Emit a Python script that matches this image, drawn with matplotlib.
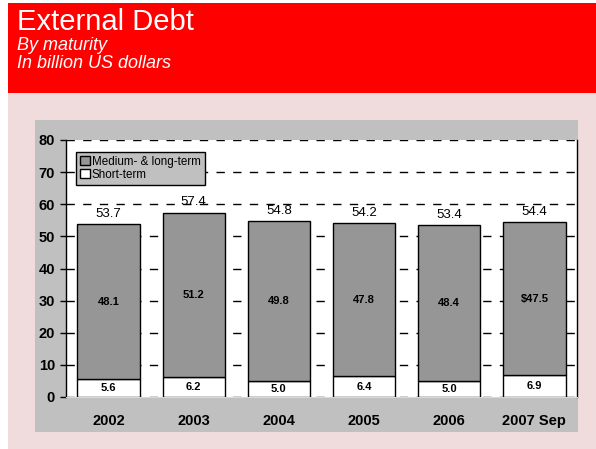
import matplotlib.pyplot as plt
from matplotlib.patches import Rectangle
import numpy as np

plt.rcParams['font.family'] = ['Liberation Sans', 'DejaVu Sans']

years = ['2002', '2003', '2004', '2005', '2006', '2007 Sep']
short_term = [5.6, 6.2, 5.0, 6.4, 5.0, 6.9]
medium_long = [48.1, 51.2, 49.8, 47.8, 48.4, 47.5]
totals = [53.7, 57.4, 54.8, 54.2, 53.4, 54.4]
medium_labels = ['48.1', '51.2', '49.8', '47.8', '48.4', '$47.5']

W, H = 596, 449
fig = plt.figure(figsize=(W / 100, H / 100), dpi=100)
fig.patch.set_facecolor('white')


def px_rect(x0, y0, x1, y1, color):
    # rectangle given in pixel coords, origin top-left
    fig.patches.append(Rectangle((x0 / W, 1 - y1 / H), (x1 - x0) / W, (y1 - y0) / H,
                                 transform=fig.transFigure, facecolor=color,
                                 edgecolor='none', zorder=-5))


px_rect(8, 93, 596, 449, '#f0dcdc')
px_rect(8, 3, 596, 93, '#ff0000')
px_rect(35, 120, 578, 432, '#c0c0c0')

fig.text(17 / W, 1 - 22 / H, 'External Debt', color='white', fontsize=21,
         va='center', ha='left')
fig.text(17 / W, 1 - 45 / H, 'By maturity', color='white', fontsize=13,
         style='italic', va='center', ha='left')
fig.text(17 / W, 1 - 64 / H, 'In billion US dollars', color='white', fontsize=13,
         style='italic', va='center', ha='left')

ax = fig.add_axes([66 / W, 1 - 397 / H, (577 - 66) / W, (397 - 140) / H])
ax.set_zorder(2)
ax.set_facecolor('white')

x = np.arange(len(years))
b1 = ax.bar(x, short_term, width=0.73, color='white', edgecolor='black',
            linewidth=1, label='Short-term', zorder=3)
b2 = ax.bar(x, medium_long, width=0.73, bottom=short_term, color='#969696',
            edgecolor='black', linewidth=1, label='Medium- & long-term', zorder=3)

for i in range(len(years)):
    ax.text(x[i], short_term[i] / 2, f'{short_term[i]:.1f}', ha='center',
            va='center', fontsize=8, fontweight='bold', zorder=4)
    ax.text(x[i], short_term[i] + medium_long[i] / 2, medium_labels[i],
            ha='center', va='center', fontsize=8, fontweight='bold', zorder=4)
    ax.annotate(f'{totals[i]:.1f}', (x[i], totals[i]), xytext=(0, 3),
                textcoords='offset points', ha='center', va='bottom',
                fontsize=9.5, zorder=4)

ax.set_xlim(-0.5, len(years) - 0.5)
ax.set_ylim(0, 80)
ax.set_yticks(range(0, 81, 10))
ax.yaxis.grid(True, color='black', linestyle=(0, (6, 6)), linewidth=1)
ax.set_axisbelow(True)
ax.set_xticks(x)
ax.set_xticklabels(years, fontsize=10.5, fontweight='bold')
ax.tick_params(axis='x', length=0, pad=12)
ax.tick_params(axis='y', length=4, width=1, direction='out', labelsize=10.5, pad=4)
for lab in ax.get_yticklabels():
    lab.set_fontweight('bold')

ax.spines['top'].set_visible(False)
ax.spines['bottom'].set_color('#d8d8d8')
ax.spines['left'].set_linewidth(1)
ax.spines['right'].set_linewidth(1)

leg = ax.legend(handles=[b2, b1], loc='upper left', bbox_to_anchor=(0.02, 0.955),
                fontsize=8.4, frameon=True, fancybox=False, handlelength=0.8,
                handleheight=0.8, handletextpad=0.2, borderpad=0.35,
                labelspacing=0.1, borderaxespad=0)
leg.get_frame().set_facecolor('#c0c0c0')
leg.get_frame().set_edgecolor('black')
leg.get_frame().set_alpha(1)
leg.get_frame().set_linewidth(1)

fig.savefig('out.png', dpi=100)
